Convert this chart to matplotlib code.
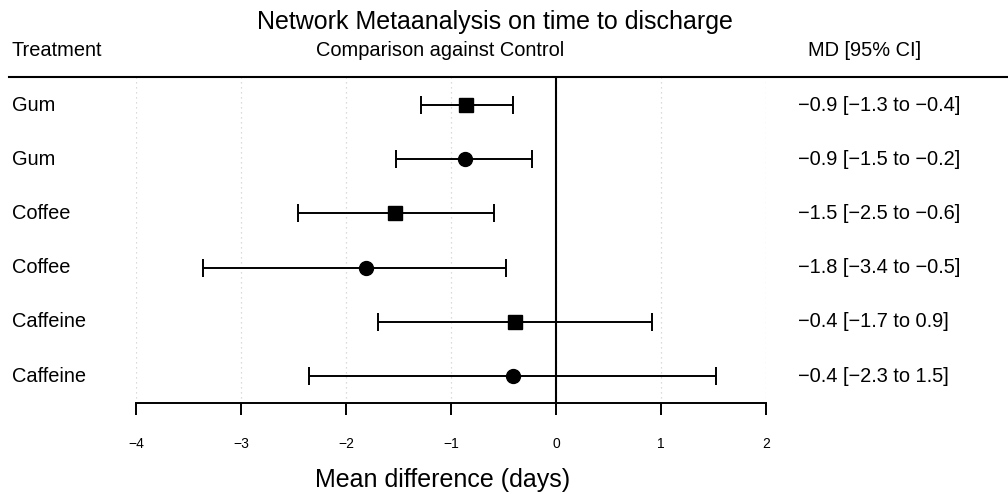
import matplotlib
matplotlib.use("Agg")
import matplotlib.pyplot as plt
from matplotlib.lines import Line2D

plt.rcParams['font.family'] = ['Liberation Sans', 'DejaVu Sans']

# data
treatments = ['Gum', 'Gum', 'Coffee', 'Coffee', 'Caffeine', 'Caffeine']
markers = ['s', 'o', 's', 'o', 's', 'o']
md = [-0.86, -0.87, -1.53, -1.81, -0.39, -0.41]
lower = [-1.29, -1.52, -2.46, -3.36, -1.70, -2.35]
upper = [-0.41, -0.23, -0.59, -0.48, 0.91, 1.52]
md_labels = ['\u22120.9 [\u22121.3 to \u22120.4]',
             '\u22120.9 [\u22121.5 to \u22120.2]',
             '\u22121.5 [\u22122.5 to \u22120.6]',
             '\u22121.8 [\u22123.4 to \u22120.5]',
             '\u22120.4 [\u22121.7 to 0.9]',
             '\u22120.4 [\u22122.3 to 1.5]']
xticks = [-4, -3, -2, -1, 0, 1, 2]

W, H = 1008, 494
fig = plt.figure(figsize=(W / 100, H / 100), dpi=100)


def fx(px):
    return px / W


def fy(py):
    return 1 - py / H


# axes from x=-4 (136px) to x=2 (766px), top line 77px, axis line 403px
ax = fig.add_axes([fx(136), fy(403), fx(766) - fx(136), (403 - 77) / H])
ax.set_xlim(-4, 2)
ax.set_ylim(5.5, -0.52)

for x in xticks:
    ax.axvline(x, color='#d0d0d0', lw=0.9, ls=(0, (1, 3)), zorder=0)
ax.axvline(0, color='black', lw=1.5, zorder=1)

for i in range(len(md)):
    ax.errorbar(md[i], i, xerr=[[md[i] - lower[i]], [upper[i] - md[i]]],
                fmt=markers[i], color='black', ms=10, elinewidth=1.4,
                capsize=6.8, capthick=1.4, zorder=3)

for s in ['top', 'right', 'left']:
    ax.spines[s].set_visible(False)
ax.spines['bottom'].set_linewidth(1.4)
ax.spines['bottom'].set_bounds(-4, 2)
ax.set_yticks([])
ax.set_xticks(xticks)
ax.set_xticklabels([str(t).replace('-', '\u2212') for t in xticks], fontsize=10)
ax.tick_params(axis='x', direction='out', length=8.5, width=1.4, pad=16)
ax.set_facecolor('none')

# header line across the figure
fig.add_artist(Line2D([fx(9), 1], [fy(77), fy(77)], color='black', lw=1.5))

fig.text(fx(495), fy(22), 'Network Metaanalysis on time to discharge',
         ha='center', va='center', fontsize=18)
fig.text(fx(12), fy(50), 'Treatment', ha='left', va='center', fontsize=14.4)
fig.text(fx(440), fy(50), 'Comparison against Control', ha='center',
         va='center', fontsize=14.4)
fig.text(fx(808), fy(50), 'MD [95% CI]', ha='left', va='center', fontsize=14.4)

row_y = [105 + 54.2 * i for i in range(len(md))]
for i, y in enumerate(row_y):
    fig.text(fx(12), fy(y), treatments[i], ha='left', va='center', fontsize=14.4)
    fig.text(fx(798), fy(y), md_labels[i], ha='left', va='center', fontsize=14.4)

fig.text(fx(443), fy(480), 'Mean difference (days)', ha='center',
         va='center', fontsize=18)

fig.savefig('out.png', dpi=100)
